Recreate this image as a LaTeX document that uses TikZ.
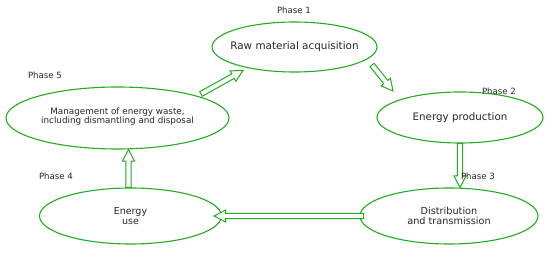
\documentclass[tikz,border=0pt]{standalone}
\usepackage{fontspec}
\setmainfont{DejaVu Sans}
\usetikzlibrary{shapes.geometric,calc}
\definecolor{pgreen}{RGB}{36,172,36}
\tikzset{
  ell/.style={ellipse, draw=pgreen, line width=1.1pt, inner sep=0pt},
  txt/.style={inner sep=0pt, align=center, text=black!85},
  phase/.style={inner sep=0pt, text=black!85, font=\fontsize{8.6}{9}\selectfont},
  hollow/.style={draw=pgreen, fill=white, line width=1pt, line join=miter}
}
\newcommand\harrow[2]{%
  \draw[hollow] let \p1=(#1), \p2=(#2), \n1={atan2(\y2-\y1,\x2-\x1)}, \n2={veclen(\x2-\x1,\y2-\y1)} in
  ({\x1+2.6*sin(\n1)},{\y1-2.6*cos(\n1)})
  -- ({\x1+(\n2-11.5)*cos(\n1)+2.6*sin(\n1)},{\y1+(\n2-11.5)*sin(\n1)-2.6*cos(\n1)})
  -- ({\x1+(\n2-11.5)*cos(\n1)+6*sin(\n1)},{\y1+(\n2-11.5)*sin(\n1)-6*cos(\n1)})
  -- (\p2)
  -- ({\x1+(\n2-11.5)*cos(\n1)-6*sin(\n1)},{\y1+(\n2-11.5)*sin(\n1)+6*cos(\n1)})
  -- ({\x1+(\n2-11.5)*cos(\n1)-2.6*sin(\n1)},{\y1+(\n2-11.5)*sin(\n1)+2.6*cos(\n1)})
  -- ({\x1-2.6*sin(\n1)},{\y1+2.6*cos(\n1)}) -- cycle;}
\begin{document}
\begin{tikzpicture}[x=1pt,y=-1pt]
\useasboundingbox[fill=white] (0,0) rectangle (550,253);
% ellipses
\node[ell, minimum width=165pt, minimum height=50pt] (e1) at (294.5,47) {};
\node[ell, minimum width=166pt, minimum height=51pt] (e2) at (460,117.5) {};
\node[ell, minimum width=178pt, minimum height=56pt] (e3) at (449,216) {};
\node[ell, minimum width=182pt, minimum height=56pt] (e4) at (130.5,216) {};
\node[ell, minimum width=223pt, minimum height=62pt] (e5) at (117.5,118) {};
% texts
\node[txt, font=\fontsize{10.4}{11}\selectfont] (t1) at (e1.center) {Raw material acquisition};
\node[txt, font=\fontsize{10.3}{11}\selectfont] (t2) at (e2.center) {Energy production};
\node[txt, font=\fontsize{9.7}{9.4}\selectfont] (t3) at (e3.center) {Distribution\\and transmission};
\node[txt, font=\fontsize{9.5}{9.4}\selectfont] (t4) at (e4.center) {Energy\\use};
\node[txt, font=\fontsize{8.8}{9}\selectfont] (t5) at ($(e5.center)+(0,-1)$) {Management of energy waste,\\including dismantling and disposal};
% arrows
\harrow{$(e5.center)+(83.5,-24)$}{$(e1.center)+(-51.5,23.5)$}
\harrow{$(e1.center)+(77.5,18)$}{$(e2.center)+(-67,-26.5)$}
\harrow{e2.south}{e2.south |- e3.north}
\harrow{$(e3.west)+(4,0)$}{$(e4.east)+(-8,0)$}
\harrow{$(e4.north)+(-2,0)$}{$(e4.north |- e5.south)+(-2,0)$}
% phase labels
\node[phase] (p1) at (294,10) {Phase 1};
\node[phase] (p2) at (499,91) {Phase 2};
\node[phase] (p3) at (478,176) {Phase 3};
\node[phase] (p4) at (56,176) {Phase 4};
\node[phase] (p5) at (45,75) {Phase 5};
\end{tikzpicture}
\end{document}
